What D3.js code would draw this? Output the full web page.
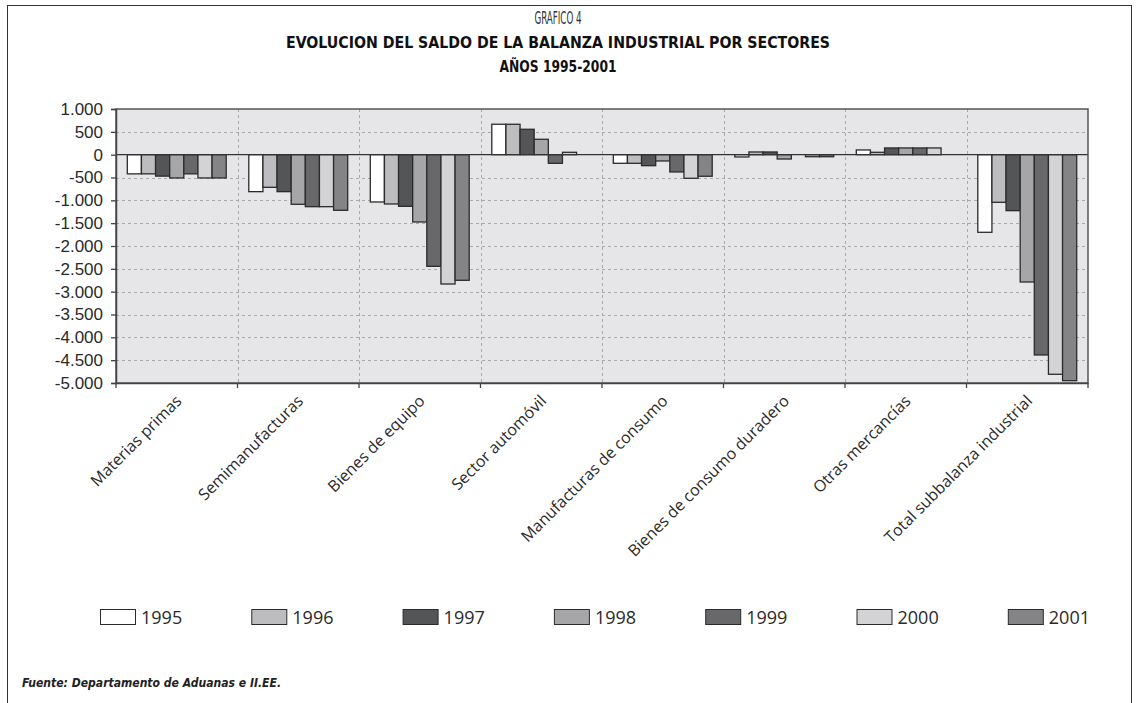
<!DOCTYPE html>
<html>
<head>
<meta charset="utf-8">
<script src="https://cdn.jsdelivr.net/npm/d3@7/dist/d3.min.js"></script>
<style>
  html, body { margin: 0; padding: 0; background: #ffffff; }
  svg { display: block; }
</style>
</head>
<body>
<svg id="chart" width="1137" height="703"></svg>
<script>
// ---------------- DATA ----------------
const titleLines = ["GRAFICO 4", "EVOLUCION DEL SALDO DE LA BALANZA INDUSTRIAL POR SECTORES", "AÑOS 1995-2001"];
const sourceNote = "Fuente: Departamento de Aduanas e II.EE.";

const categories = [
  "Materias primas",
  "Semimanufacturas",
  "Bienes de equipo",
  "Sector automóvil",
  "Manufacturas de consumo",
  "Bienes de consumo duradero",
  "Otras mercancías",
  "Total subbalanza industrial"
];

const years = ["1995", "1996", "1997", "1998", "1999", "2000", "2001"];

const values1995 = [-420, -810, -1036, 666, -189, -50, 103, -1700];
const values1996 = [-420, -715, -1080, 666, -189, 59, 52, -1043];
const values1997 = [-470, -810, -1131, 556, -241, 59, 147, -1226];
const values1998 = [-510, -1087, -1474, 337, -138, -95, 147, -2788];
const values1999 = [-420, -1139, -2445, -189, -379, 0, 147, -4386];
const values2000 = [-510, -1139, -2832, 52, -517, -45, 147, -4809];
const values2001 = [-510, -1218, -2751, 0, -473, -45, 0, -4949];

const yTicks = [1000, 500, 0, -500, -1000, -1500, -2000, -2500, -3000, -3500, -4000, -4500, -5000];
const yTickLabels = ["1.000", "500", "0", "-500", "-1.000", "-1.500", "-2.000", "-2.500", "-3.000", "-3.500", "-4.000", "-4.500", "-5.000"];

const seriesColors = ["#ffffff", "#bdbdbf", "#545557", "#a6a6a8", "#68686b", "#d3d3d5", "#848487"];

// table built from the arrays above
const seriesValues = [values1995, values1996, values1997, values1998, values1999, values2000, values2001];
const series = years.map((y, i) => ({ year: y, color: seriesColors[i], values: seriesValues[i] }));

// ---------------- LAYOUT ----------------
const svg = d3.select("#chart");
const plot = { left: 116, right: 1088, top: 109, bottom: 383 };

// outer frame
svg.append("rect")
  .attr("x", 7.5).attr("y", 5.5)
  .attr("width", 1124).attr("height", 720)
  .attr("fill", "none").attr("stroke", "#333").attr("stroke-width", 1);

// titles
const titleFont = "'DejaVu Sans Condensed', 'Liberation Sans', sans-serif";
svg.append("text")
  .attr("transform", "translate(558,24) scale(0.57,1)")
  .attr("text-anchor", "middle")
  .attr("font-family", "'DejaVu Sans Condensed', sans-serif").attr("font-size", 17).attr("fill", "#333")
  .text(titleLines[0]);
svg.append("text").attr("x", 558).attr("y", 48).attr("text-anchor", "middle")
  .attr("font-family", titleFont).attr("font-size", 15).attr("font-weight", "bold").attr("fill", "#111")
  .attr("textLength", 544).attr("lengthAdjust", "spacingAndGlyphs")
  .text(titleLines[1]);
svg.append("text").attr("x", 558).attr("y", 72).attr("text-anchor", "middle")
  .attr("font-family", titleFont).attr("font-size", 15).attr("font-weight", "bold").attr("fill", "#111")
  .attr("textLength", 117).attr("lengthAdjust", "spacingAndGlyphs")
  .text(titleLines[2]);

// scales
const x0 = d3.scaleBand().domain(categories).range([plot.left, plot.right]).paddingInner(0).paddingOuter(0);
const x1 = d3.scaleBand().domain(years).range([0, x0.bandwidth()]).paddingInner(0).paddingOuter(0.8);
const y = d3.scaleLinear().domain([-5000, 1000]).range([plot.bottom, plot.top]);

// plot background
svg.append("rect")
  .attr("x", plot.left).attr("y", plot.top)
  .attr("width", plot.right - plot.left).attr("height", plot.bottom - plot.top)
  .attr("fill", "#e6e6e8");

// horizontal grid
svg.append("g").selectAll("line")
  .data(yTicks.filter(t => t !== 0 && t !== 1000 && t !== -5000))
  .join("line")
  .attr("x1", plot.left).attr("x2", plot.right)
  .attr("y1", d => Math.round(y(d)) + 0.5).attr("y2", d => Math.round(y(d)) + 0.5)
  .attr("stroke", "#a9a9ab").attr("stroke-width", 1).attr("stroke-dasharray", "3,3");

// vertical grid at category boundaries
svg.append("g").selectAll("line")
  .data(categories.slice(1))
  .join("line")
  .attr("x1", d => Math.round(x0(d)) + 0.5).attr("x2", d => Math.round(x0(d)) + 0.5)
  .attr("y1", plot.top).attr("y2", plot.bottom)
  .attr("stroke", "#a9a9ab").attr("stroke-width", 1).attr("stroke-dasharray", "3,3");

// bars
const groups = svg.append("g").selectAll("g")
  .data(series)
  .join("g")
  .attr("fill", d => d.color);

groups.selectAll("rect")
  .data(d => d.values.map((v, i) => ({ cat: categories[i], year: d.year, value: v })))
  .join("rect")
  .attr("x", d => x0(d.cat) + x1(d.year))
  .attr("width", x1.bandwidth())
  .attr("y", d => Math.min(y(d.value), y(0)))
  .attr("height", d => Math.abs(y(d.value) - y(0)))
  .attr("stroke", "#2b2b2b").attr("stroke-width", 1.3);

// zero line
svg.append("line")
  .attr("x1", plot.left).attr("x2", plot.right)
  .attr("y1", y(0)).attr("y2", y(0))
  .attr("stroke", "#333").attr("stroke-width", 1.3);

// plot border
svg.append("rect")
  .attr("x", plot.left).attr("y", plot.top)
  .attr("width", plot.right - plot.left).attr("height", plot.bottom - plot.top)
  .attr("fill", "none").attr("stroke", "#555").attr("stroke-width", 1.5);

// y axis
const yAxis = d3.axisLeft(y)
  .tickValues(yTicks)
  .tickFormat((d, i) => yTickLabels[i])
  .tickSize(5)
  .tickPadding(8);
const gy = svg.append("g").attr("transform", `translate(${plot.left},0)`).call(yAxis);
gy.select(".domain").attr("stroke", "#444").attr("stroke-width", 1.5);
gy.selectAll(".tick line").attr("stroke", "#444").attr("stroke-width", 1.3);
gy.selectAll(".tick text")
  .attr("font-family", "'Liberation Sans', Arial, sans-serif")
  .attr("font-size", 17).attr("fill", "#2a2a2a");

// x axis (ticks at category boundaries)
const xAxis = d3.axisBottom(x0).tickSize(0).tickFormat("");
const gx = svg.append("g").attr("transform", `translate(0,${plot.bottom})`).call(xAxis);
gx.select(".domain").attr("stroke", "#444").attr("stroke-width", 1.5);
svg.append("g").selectAll("line")
  .data(categories.concat(["_end"]))
  .join("line")
  .attr("x1", (d, i) => plot.left + i * x0.step())
  .attr("x2", (d, i) => plot.left + i * x0.step())
  .attr("y1", plot.bottom).attr("y2", plot.bottom + 5)
  .attr("stroke", "#444").attr("stroke-width", 1.3);

// category labels rotated -45
svg.append("g").selectAll("text")
  .data(categories)
  .join("text")
  .attr("transform", d => `translate(${x0(d) + x0.bandwidth() / 2 + 6},${plot.bottom + 19}) rotate(-45)`)
  .attr("text-anchor", "end")
  .attr("font-family", "'Open Sans', 'Noto Sans', sans-serif")
  .attr("font-size", 16).attr("fill", "#2a2a2a")
  .text(d => d);

// legend
const legendX = d3.scaleBand().domain(years).range([100, 100 + 7 * 151.3]);
const legend = svg.append("g").selectAll("g")
  .data(series)
  .join("g")
  .attr("transform", d => `translate(${legendX(d.year)},609)`);
legend.append("rect")
  .attr("x", 0.5).attr("y", 0.5).attr("width", 35).attr("height", 15)
  .attr("fill", d => d.color).attr("stroke", "#2b2b2b").attr("stroke-width", 1);
legend.append("text")
  .attr("x", 41).attr("y", 15)
  .attr("font-family", "'Open Sans', 'Noto Sans', sans-serif")
  .attr("font-size", 18).attr("fill", "#2a2a2a")
  .text(d => d.year);

// source note
svg.append("text")
  .attr("x", 22).attr("y", 687)
  .attr("font-family", "'DejaVu Sans Condensed', sans-serif")
  .attr("font-size", 12).attr("font-style", "italic").attr("font-weight", "bold").attr("fill", "#222")
  .attr("textLength", 259).attr("lengthAdjust", "spacingAndGlyphs")
  .text(sourceNote);
</script>
</body>
</html>
